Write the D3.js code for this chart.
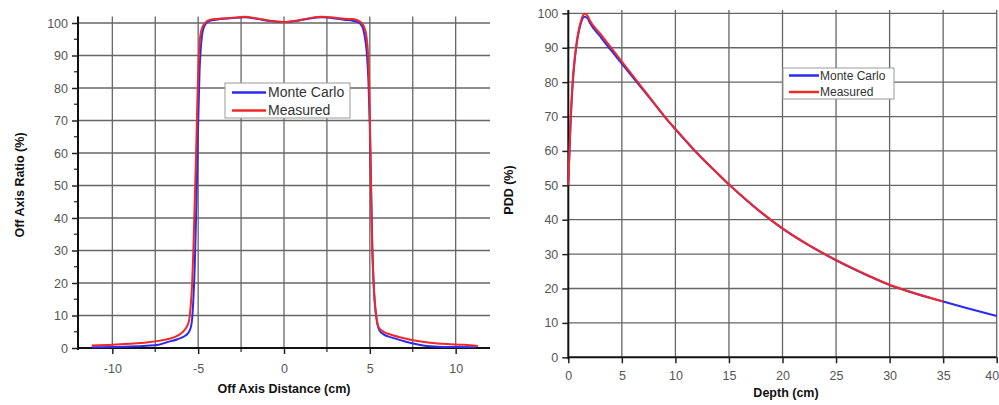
<!DOCTYPE html>
<html><head><meta charset="utf-8">
<script src="https://cdn.jsdelivr.net/npm/d3@7/dist/d3.min.js"></script>
<style>body{margin:0;background:#fff;}svg{display:block;font-family:"Liberation Sans",Arial,sans-serif;}</style>
</head><body><svg id="c" width="999" height="405"></svg>
<script>
// ---- Left chart: off-axis profile ----
const profileSeries = ["Monte Carlo", "Measured"];
const profileXTicks = [-10, -5, 0, 5, 10];
const profileYTicks = [0, 10, 20, 30, 40, 50, 60, 70, 80, 90, 100];
const profileMeasuredX = [-11.2,-10,-9,-8,-7,-6.2,-5.8,-5.55,-5.45,-5.35,-5.28,-5.2,-5.12,-5.05,-4.98,-4.9,-4.8,-4.6,-4.3,-3.8,-3,-2.3,-1.5,-0.8,0,0.8,1.5,2.2,3,3.5,4,4.4,4.65,4.8,4.9,4.97,5.02,5.07,5.12,5.18,5.25,5.35,5.5,5.8,6.3,7,7.7,8.5,9.5,10.5,11.3];
const profileMeasuredY = [0.8,1.0,1.3,1.7,2.5,3.8,5.5,8,12,20,30,45,60,75,88,95,98,100,101,101.3,101.6,101.9,101.3,100.7,100.3,100.8,101.5,101.9,101.6,101.3,101.2,100.5,99,96,90,80,65,50,35,25,17,11,6.5,5,4,3,2.2,1.6,1.2,1.0,0.6];
const profileMonteCarloX = [-11.2,-10,-9,-8,-7.3,-6.8,-6.2,-5.8,-5.6,-5.45,-5.35,-5.28,-5.2,-5.15,-5.1,-5.06,-5.02,-4.97,-4.92,-4.85,-4.78,-4.65,-4.4,-4,-3,-2.3,-1.5,-0.8,0,0.8,1.5,2.2,3,3.5,4,4.3,4.55,4.7,4.82,4.92,5.0,5.05,5.1,5.15,5.22,5.3,5.42,5.55,5.8,6.3,7,7.6,8.2,9,10,11.2];
const profileMonteCarloY = [0.2,0.3,0.45,0.7,1.0,1.8,2.7,3.6,4.5,6,9,15,25,35,45,55,65,75,85,92,96,99,100.5,101,101.5,101.8,101.2,100.6,100.3,100.7,101.4,101.8,101.4,101,100.7,100.3,99,96,91,82,68,55,42,30,20,13,8,5.5,4.2,3.2,2.1,1.3,0.7,0.4,0.3,0.2];

// ---- Right chart: PDD ----
const pddXTicks = [0, 5, 10, 15, 20, 25, 30, 35, 40];
const pddYTicks = [0, 10, 20, 30, 40, 50, 60, 70, 80, 90, 100];
const depthMeasured = [0,0.2,0.4,0.6,0.8,1.0,1.25,1.5,1.8,2,3,4,5,6,7,8,9,10,12,14,15,16,18,20,22,25,28,30,32,35];
const pddMeasured = [50,68,80,87,92,95.5,98.5,99.9,99.3,98,94,90,86,82,78,74,70,66.4,59.5,53.3,50.3,47.5,42.2,37.5,33.5,28.3,23.8,21.1,19,16.2];
const depthMonteCarlo = [0,0.2,0.4,0.6,0.8,1.0,1.25,1.5,1.8,2,3,4,5,6,7,8,9,10,12,14,15,16,18,20,22,25,28,30,32,35,37,40];
const pddMonteCarlo = [51,67,79,86.5,91.5,95,97.8,99,98.6,97.3,93.2,89.2,85.4,81.5,77.7,73.8,69.9,66.3,59.4,53.2,50.2,47.4,42.1,37.4,33.4,28.2,23.7,21.0,18.9,16.2,14.5,12.0];

const colors = {"Monte Carlo": "#2a2af2", "Measured": "#f02828"};
const svg = d3.select("#c");
svg.append("rect").attr("width",999).attr("height",405).attr("fill","#fff");

function drawChart(o) {
  const g = svg.append("g");
  const x = d3.scaleLinear().domain(o.xDomain).range(o.xRange);
  const y = d3.scaleLinear().domain(o.yDomain).range(o.yRange);
  // grid
  g.append("g").selectAll("line").data(o.xGrid).join("line")
    .attr("x1", d => x(d)).attr("x2", d => x(d))
    .attr("y1", y(o.yDomain[0])).attr("y2", o.yRange[1])
    .attr("stroke", "#666").attr("stroke-width", 1.3);
  g.append("g").selectAll("line").data(o.yGrid).join("line")
    .attr("y1", d => y(d)).attr("y2", d => y(d))
    .attr("x1", o.xRange[0]).attr("x2", o.xRange[1])
    .attr("stroke", "#666").attr("stroke-width", 1.3);
  // minor ticks
  if (o.xMinor) g.append("g").selectAll("line").data(o.xMinor).join("line")
    .attr("x1", d => x(d)).attr("x2", d => x(d)).attr("y1", y(0)).attr("y2", y(0) + 4)
    .attr("stroke", "#333").attr("stroke-width", 1.3);
  if (o.yMinor) g.append("g").selectAll("line").data(o.yMinor).join("line")
    .attr("y1", d => y(d)).attr("y2", d => y(d)).attr("x1", o.xRange[0] - 4).attr("x2", o.xRange[0])
    .attr("stroke", "#333").attr("stroke-width", 1.3);
  // axes
  const fmt = d => String(d);
  const xa = g.append("g").attr("transform", `translate(0,${y(0)})`)
    .call(d3.axisBottom(x).tickValues(o.xTicks).tickFormat(fmt).tickSize(6).tickPadding(o.xPad).tickSizeOuter(0));
  const ya = g.append("g").attr("transform", `translate(${o.xRange[0]},0)`)
    .call(d3.axisLeft(y).tickValues(o.yTicks).tickFormat(fmt).tickSize(6).tickPadding(4).tickSizeOuter(0));
  [xa, ya].forEach(a => {
    a.select(".domain").attr("stroke", "#111").attr("stroke-width", 2);
    a.selectAll(".tick line").attr("stroke", "#222").attr("stroke-width", 1.5);
    a.selectAll(".tick text").attr("fill", "#555").style("font-size", "12.5px")
      .style("font-family", '"Liberation Sans",Arial,sans-serif');
  });
  // keep the edge label inside the page
  xa.selectAll(".tick text").filter(d => x(d) > 985).attr("text-anchor", "end").attr("dx", 2);
  ya.select(".domain").attr("d", `M0,${y(0)+2}V${o.yRange[1]}`);
  xa.select(".domain").attr("d", `M${o.xRange[0]},0H${o.xRange[1]}`);
  // lines
  const line = d3.line().x(d => x(d[0])).y(d => y(d[1])).curve(d3.curveMonotoneX);
  o.series.forEach(s => {
    g.append("path").datum(d3.zip(s.xs, s.ys)).attr("d", line)
      .attr("fill", "none").attr("stroke", colors[s.name]).attr("stroke-width", 2)
      .attr("stroke-linejoin", "round");
  });
  // titles
  g.append("text").attr("x", o.xTitlePos[0]).attr("y", o.xTitlePos[1]).attr("text-anchor", "middle")
    .style("font-size", "12.5px").style("font-weight", "bold").attr("fill", "#111").text(o.xTitle);
  g.append("text").attr("transform", `translate(${o.yTitlePos[0]},${o.yTitlePos[1]}) rotate(-90)`)
    .attr("text-anchor", "middle").attr("dy", "0.35em")
    .style("font-size", "12.5px").style("font-weight", "bold").attr("fill", "#111").text(o.yTitle);
  // legend
  const L = o.legend;
  g.append("rect").attr("x", L.x).attr("y", L.y).attr("width", L.w).attr("height", L.h)
    .attr("fill", "#fff").attr("stroke", "#999").attr("stroke-width", 1);
  profileSeries.forEach((nm, i) => {
    const yy = L.y + L.first + i * L.step;
    g.append("line").attr("x1", L.x + L.lx0).attr("x2", L.x + L.lx1).attr("y1", yy).attr("y2", yy)
      .attr("stroke", colors[nm]).attr("stroke-width", 2.5);
    g.append("text").attr("x", L.x + L.tx).attr("y", yy).attr("dy", "0.35em")
      .style("font-size", L.fs + "px").attr("fill", "#333").text(nm);
  });
}

drawChart({
  xDomain: [-12, 12], xRange: [78, 490], yDomain: [0, 102], yRange: [348, 16.5],
  xTicks: profileXTicks, yTicks: profileYTicks, xPad: 10,
  xGrid: [-10, -7.5, -5, -2.5, 0, 2.5, 5, 7.5, 10], yGrid: [10, 20, 30, 40, 50, 60, 70, 80, 90, 100],
  xMinor: [-7.5, -2.5, 2.5, 7.5], yMinor: [5, 15, 25, 35, 45, 55, 65, 75, 85, 95],
  series: [
    {name: "Monte Carlo", xs: profileMonteCarloX, ys: profileMonteCarloY},
    {name: "Measured", xs: profileMeasuredX, ys: profileMeasuredY}
  ],
  xTitle: "Off Axis Distance (cm)", xTitlePos: [284, 393],
  yTitle: "Off Axis Ratio (%)", yTitlePos: [20, 185],
  legend: {x: 225, y: 83, w: 125, h: 35, first: 9.5, step: 18, lx0: 7, lx1: 41, tx: 43, fs: 14}
});

drawChart({
  xDomain: [0, 40], xRange: [568.3, 996.7], yDomain: [0, 101], yRange: [357.3, 9.9],
  xTicks: pddXTicks, yTicks: pddYTicks, xPad: 8,
  xGrid: [5, 10, 15, 20, 25, 30, 35, 40], yGrid: [10, 20, 30, 40, 50, 60, 70, 80, 90, 100],
  series: [
    {name: "Monte Carlo", xs: depthMonteCarlo, ys: pddMonteCarlo},
    {name: "Measured", xs: depthMeasured, ys: pddMeasured}
  ],
  xTitle: "Depth (cm)", xTitlePos: [786, 397],
  yTitle: "PDD (%)", yTitlePos: [509, 190],
  legend: {x: 783, y: 68, w: 111, h: 31, first: 7.5, step: 16.5, lx0: 6, lx1: 36, tx: 37, fs: 12}
});
</script></body></html>
